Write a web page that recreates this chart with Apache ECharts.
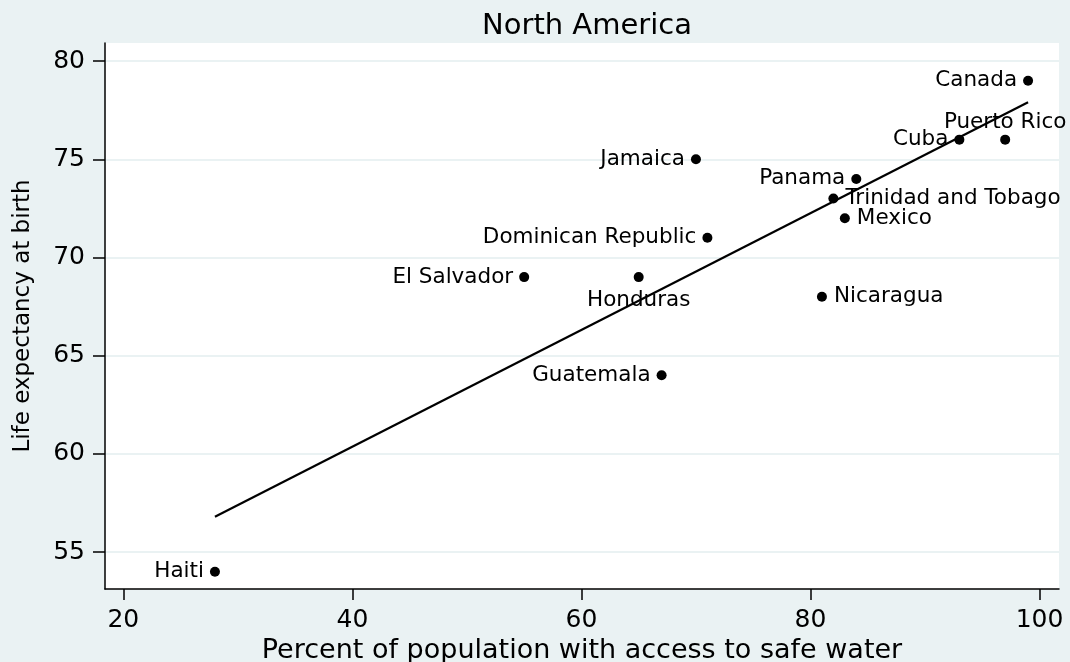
<!DOCTYPE html>
<html><head><meta charset="utf-8">
<script src="https://cdn.jsdelivr.net/npm/echarts@6/dist/echarts.min.js"></script>
<style>html,body{margin:0;padding:0;background:#eaf2f3}#c{width:1070px;height:662px}</style>
</head><body><div id="c"></div>
<script>
const countries = ['Canada','Puerto Rico','Cuba','Jamaica','Panama','Trinidad and Tobago','Mexico','Dominican Republic','El Salvador','Honduras','Nicaragua','Guatemala','Haiti'];
const safeWater = [99, 97, 93, 70, 84, 82, 83, 71, 55, 65, 81, 67, 28];
const lifeExpectancy = [79, 76, 76, 75, 74, 73, 72, 71, 69, 69, 68, 64, 54];
const labelPositions = ['left','top','left','left','left','right','right','left','left','bottom','right','left','left'];
const fitX = [28, 99];
const fitY = [56.8, 77.9];
const xTicks = [20, 40, 60, 80, 100];
const yTicks = [55, 60, 65, 70, 75, 80];

const FONT = 'DejaVu Sans';
const distances = {left: 6, right: 7, top: 1, bottom: 7};

const pts = countries.map((c, i) => ({
  name: c,
  value: [safeWater[i], lifeExpectancy[i]],
  label: {position: labelPositions[i], distance: distances[labelPositions[i]]}
}));

const chart = echarts.init(document.getElementById('c'));
chart.setOption({
  backgroundColor: '#eaf2f3',
  animation: false,
  textStyle: {fontFamily: FONT, color: '#000'},
  title: {
    text: 'North America', left: 582, top: 7, textAlign: 'center',
    textStyle: {fontFamily: FONT, fontSize: 29, fontWeight: 'normal', color: '#000'}
  },
  grid: {left: 105, right: 11, top: 43, bottom: 73, show: true, backgroundColor: '#fff', borderWidth: 0,
         containLabel: false, outerBoundsMode: 'none'},
  xAxis: {
    type: 'value', min: 18.4, max: 101.7,
    name: 'Percent of population with access to safe water',
    nameLocation: 'middle', nameGap: 47,
    nameTextStyle: {fontFamily: FONT, fontSize: 27, color: '#000'},
    axisLine: {show: true, onZero: false, lineStyle: {color: '#000', width: 1.5}},
    axisTick: {show: true, length: 11, customValues: xTicks, lineStyle: {color: '#000', width: 1.5}},
    axisLabel: {customValues: xTicks, margin: 19, fontFamily: FONT, fontSize: 25, color: '#000'},
    splitLine: {show: false}
  },
  yAxis: {
    type: 'value', min: 53.12, max: 80.92,
    name: 'Life expectancy at birth',
    nameLocation: 'middle', nameGap: 70, nameRotate: 90,
    nameTextStyle: {fontFamily: FONT, fontSize: 23, color: '#000'},
    axisLine: {show: true, onZero: false, lineStyle: {color: '#000', width: 1.5}},
    axisTick: {show: true, length: 12, customValues: yTicks, lineStyle: {color: '#000', width: 1.5}},
    axisLabel: {customValues: yTicks, margin: 20, fontFamily: FONT, fontSize: 25, color: '#000'},
    splitLine: {show: true, lineStyle: {color: '#eaf2f3', width: 2}}
  },
  series: [
    {
      type: 'scatter', symbol: 'circle', symbolSize: 10,
      itemStyle: {color: '#000', opacity: 1},
      label: {show: true, formatter: '{b}', fontFamily: FONT, fontSize: 21.5, color: '#000'},
      emphasis: {disabled: true},
      data: pts, z: 2
    },
    {
      type: 'line', symbol: 'none', z: 3,
      lineStyle: {color: '#000', width: 2.2},
      emphasis: {disabled: true},
      data: fitX.map((x, i) => [x, fitY[i]])
    }
  ]
});
</script>
</body></html>
